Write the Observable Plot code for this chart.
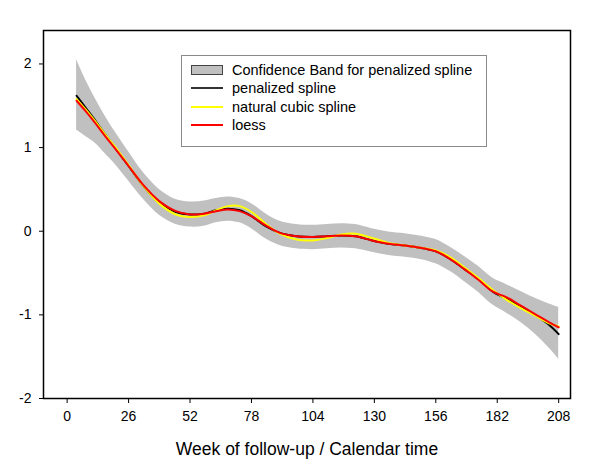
<!DOCTYPE html>
<html>
<head>
<meta charset="utf-8">
<script src="https://cdn.jsdelivr.net/npm/d3@7"></script>
<script src="https://cdn.jsdelivr.net/npm/@observablehq/plot@0.6"></script>
<style>
  html, body { margin: 0; padding: 0; background: #fff; }
  #wrap { position: relative; width: 600px; height: 464px; font-family: "Liberation Sans", Arial, sans-serif; }
  #legend { position: absolute; left: 181px; top: 55px; width: 306px; height: 92px; border: 1px solid #8a8a8a; background: #fff; box-sizing: border-box; font-size: 14.5px; color: #000; }
  .row { position: absolute; left: 9px; height: 18px; display: flex; align-items: center; }
  .sw { width: 32px; margin-right: 9px; box-sizing: border-box; flex: none; }
</style>
</head>
<body>
<div id="wrap"></div>
<script>
const weeks = [4, 8, 12, 16, 20, 26, 32, 39, 46, 52, 58, 63, 68, 73, 78, 84, 90, 97, 104, 110, 116, 122, 129, 136, 143, 150, 156, 162, 168, 174, 180, 186, 192, 198, 204, 208];
const penalized = [1.62, 1.47, 1.32, 1.16, 1.01, 0.78, 0.55, 0.34, 0.23, 0.20, 0.21, 0.25, 0.27, 0.25, 0.18, 0.06, -0.02, -0.06, -0.07, -0.06, -0.05, -0.06, -0.11, -0.15, -0.17, -0.20, -0.24, -0.33, -0.45, -0.57, -0.72, -0.81, -0.90, -1.00, -1.12, -1.23];
const natural = [1.58, 1.45, 1.31, 1.16, 1.02, 0.79, 0.55, 0.33, 0.20, 0.17, 0.19, 0.25, 0.30, 0.30, 0.23, 0.09, -0.03, -0.10, -0.11, -0.08, -0.04, -0.03, -0.08, -0.14, -0.17, -0.20, -0.23, -0.31, -0.43, -0.56, -0.70, -0.82, -0.92, -1.01, -1.10, -1.14];
const loess = [1.56, 1.43, 1.29, 1.14, 1.00, 0.78, 0.56, 0.36, 0.24, 0.20, 0.21, 0.24, 0.26, 0.24, 0.18, 0.07, -0.02, -0.06, -0.07, -0.06, -0.05, -0.06, -0.11, -0.15, -0.17, -0.20, -0.24, -0.33, -0.45, -0.58, -0.72, -0.79, -0.89, -0.99, -1.09, -1.15];
const bandUpper = [2.05, 1.80, 1.58, 1.38, 1.20, 0.95, 0.71, 0.50, 0.38, 0.35, 0.36, 0.39, 0.41, 0.39, 0.33, 0.21, 0.12, 0.08, 0.07, 0.08, 0.09, 0.08, 0.03, -0.01, -0.03, -0.06, -0.10, -0.19, -0.30, -0.42, -0.56, -0.64, -0.72, -0.80, -0.87, -0.91];
const bandLower = [1.21, 1.13, 1.05, 0.93, 0.81, 0.60, 0.39, 0.19, 0.08, 0.05, 0.06, 0.10, 0.12, 0.10, 0.03, -0.09, -0.17, -0.21, -0.22, -0.21, -0.20, -0.21, -0.25, -0.29, -0.31, -0.34, -0.39, -0.48, -0.60, -0.73, -0.88, -0.98, -1.09, -1.23, -1.40, -1.53];
const xTicks = [0, 26, 52, 78, 104, 130, 156, 182, 208];
const yTicks = [-2, -1, 0, 1, 2];

const rows = weeks.map((w, i) => ({w, pen: penalized[i], nat: natural[i], lo: loess[i], up: bandUpper[i], low: bandLower[i]}));

const chart = Plot.plot({
  width: 600,
  height: 464,
  marginLeft: 43,
  marginRight: 30,
  marginTop: 30,
  marginBottom: 66,
  style: {fontFamily: "'Liberation Sans', Arial, sans-serif", fontSize: "14px", background: "#fff", color: "#000"},
  x: {domain: [-10, 213]},
  y: {domain: [-2, 2.4]},
  marks: [
    Plot.areaY(rows, {x: "w", y1: "low", y2: "up", fill: "#c0c0c0", curve: "catmull-rom"}),
    Plot.line(rows, {x: "w", y: "pen", stroke: "#000", strokeWidth: 2, curve: "catmull-rom"}),
    Plot.line(rows, {x: "w", y: "nat", stroke: "#ffff00", strokeWidth: 2, curve: "catmull-rom"}),
    Plot.line(rows, {x: "w", y: "lo", stroke: "#ff0000", strokeWidth: 2, curve: "catmull-rom"}),
    Plot.axisX({ticks: xTicks, tickSize: 5, tickPadding: 8, tickFormat: d => String(d), label: "Week of follow-up / Calendar time", labelAnchor: "center", labelArrow: "none", labelOffset: 56, fontSize: 14}),
    Plot.axisY({ticks: yTicks, tickSize: 4, tickPadding: 8, tickFormat: d => String(d), label: null, fontSize: 14}),
    Plot.frame({stroke: "#000", strokeWidth: 1.5})
  ]
});
const wrap = document.getElementById("wrap");
wrap.appendChild(chart);
chart.querySelectorAll("g[aria-label='x-axis label'] text").forEach(t => t.setAttribute("font-size", "17.5px"));

const legendItems = [
  {label: "Confidence Band for penalized spline", type: "band", color: "#c0c0c0"},
  {label: "penalized spline", type: "line", color: "#333"},
  {label: "natural cubic spline", type: "line", color: "#ffff00"},
  {label: "loess", type: "line", color: "#ff0000"}
];
const leg = document.createElement("div");
leg.id = "legend";
legendItems.forEach((d, i) => {
  const r = document.createElement("div");
  r.className = "row";
  r.style.top = (5 + i * 18.3) + "px";
  const s = document.createElement("div");
  s.className = "sw";
  if (d.type === "band") { s.style.height = "10px"; s.style.background = d.color; s.style.border = "1px solid #444"; }
  else { s.style.height = "2px"; s.style.background = d.color; }
  const t = document.createElement("span");
  t.textContent = d.label;
  r.appendChild(s); r.appendChild(t);
  leg.appendChild(r);
});
wrap.appendChild(leg);
</script>
</body>
</html>
